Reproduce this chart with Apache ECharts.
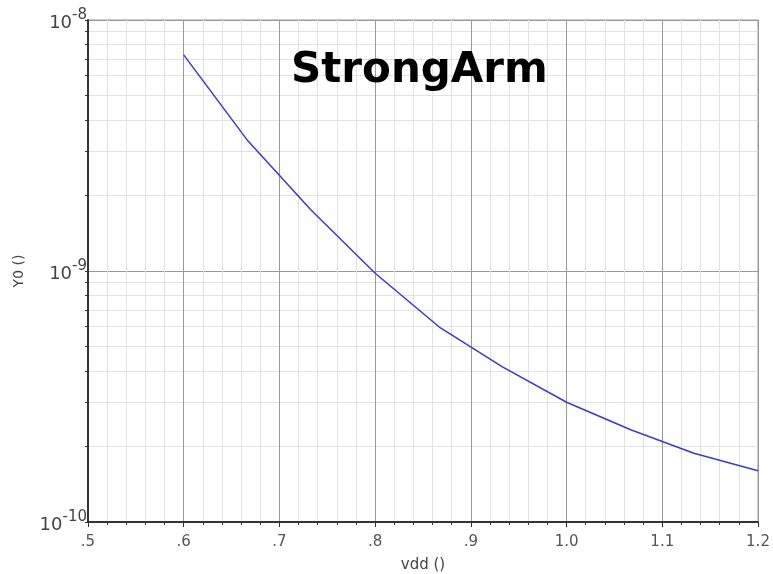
<!DOCTYPE html>
<html>
<head>
<meta charset="utf-8">
<script src="https://cdn.jsdelivr.net/npm/echarts@6/dist/echarts.min.js"></script>
<style>
  html, body { margin: 0; padding: 0; background: #fff; }
  #chart { width: 773px; height: 574px; }
</style>
</head>
<body>
<div id="chart"></div>
<script>
// 数据
var vdd = [0.6, 0.667, 0.733, 0.8, 0.867, 0.933, 1.0, 1.067, 1.133, 1.2];
var y0 = [7.26e-9, 3.30e-9, 1.75e-9, 9.8e-10, 5.98e-10, 4.15e-10, 3.0e-10, 2.33e-10, 1.88e-10, 1.60e-10];
var yTicks = [1e-10, 2e-10, 3e-10, 4e-10, 5e-10, 6e-10, 7e-10, 8e-10, 9e-10,
              1e-9, 2e-9, 3e-9, 4e-9, 5e-9, 6e-9, 7e-9, 8e-9, 9e-9, 1e-8];
var yLabels = [1e-10, 1e-9, 1e-8];

var chart = echarts.init(document.getElementById('chart'));

var points = [];
for (var i = 0; i < vdd.length; i++) {
  points.push([vdd[i], y0[i]]);
}

var option = {
  backgroundColor: '#fff',
  animation: false,
  title: {
    text: 'StrongArm',
    left: 286,
    top: 45,
    textStyle: { fontFamily: 'DejaVu Sans', fontWeight: 'bold', fontSize: 42, color: '#000' }
  },
  grid: {
    left: 88, right: 15, top: 20, bottom: 52,
    outerBoundsMode: 'none',
    show: true, borderColor: '#999', borderWidth: 1
  },
  xAxis: {
    type: 'value',
    min: 0.5, max: 1.2, interval: 0.1,
    name: 'vdd ()',
    nameLocation: 'middle',
    nameGap: 36,
    nameTextStyle: { fontFamily: 'DejaVu Sans', fontSize: 15, color: '#444' },
    axisLine: { lineStyle: { color: '#333', width: 2 } },
    axisTick: { show: true, length: 5, lineStyle: { color: '#333' } },
    minorTick: { show: true, splitNumber: 5, length: 3, lineStyle: { color: '#333' } },
    splitLine: { show: true, lineStyle: { color: '#999', width: 1 } },
    minorSplitLine: { show: true, lineStyle: { color: '#e2e2e2', width: 1 } },
    axisLabel: {
      margin: 13,
      fontFamily: 'DejaVu Sans', fontSize: 15, color: '#555',
      formatter: function (v) {
        if (v < 1) return '.' + Math.round(v * 10);
        return v.toFixed(1);
      }
    }
  },
  yAxis: {
    type: 'log',
    logBase: 10,
    min: 1e-10, max: 1e-8,
    name: 'Y0 ()',
    nameLocation: 'middle',
    nameGap: 62,
    nameTextStyle: { fontFamily: 'DejaVu Sans', fontSize: 14, color: '#444' },
    axisLine: { show: true, lineStyle: { color: '#333', width: 2 } },
    axisTick: { show: true, length: 3, customValues: yTicks, lineStyle: { color: '#333' } },
    splitLine: {
      show: true,
      lineStyle: {
        color: ['#999', '#e2e2e2', '#e2e2e2', '#e2e2e2', '#e2e2e2', '#e2e2e2', '#e2e2e2', '#e2e2e2', '#e2e2e2'],
        width: 1
      }
    },
    axisLabel: {
      customValues: yLabels,
      margin: 1,
      formatter: function (v) {
        var e = Math.round(Math.log(v) / Math.LN10);
        return '{b|10}{s|' + e + '}';
      },
      rich: {
        b: { fontFamily: 'DejaVu Sans', fontSize: 18, color: '#444', padding: [6, 0, 0, 0] },
        s: { fontFamily: 'DejaVu Sans', fontSize: 15, color: '#444', verticalAlign: 'top', padding: [0, 0, 8, 0] }
      }
    }
  },
  series: [{
    type: 'line',
    data: points,
    showSymbol: false,
    lineStyle: { color: '#3a3ad0', width: 1.5 }
  }]
};

chart.setOption(option);
</script>
</body>
</html>
